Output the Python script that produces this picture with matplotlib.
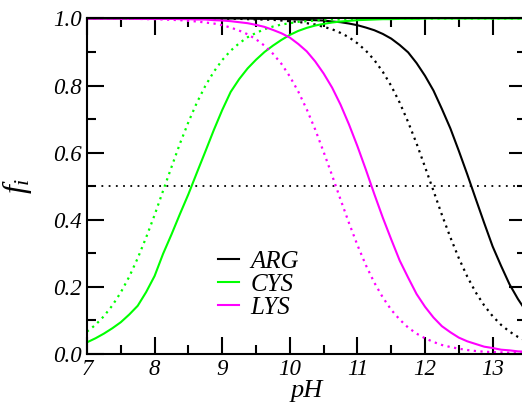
import matplotlib
matplotlib.use("Agg")
import matplotlib.pyplot as plt
from matplotlib.ticker import MultipleLocator

plt.rcParams['font.family'] = ['Liberation Serif', 'DejaVu Serif']
plt.rcParams['font.style'] = 'italic'
plt.rcParams['mathtext.fontset'] = 'custom'
plt.rcParams['mathtext.it'] = 'Liberation Serif:italic'
plt.rcParams['mathtext.rm'] = 'Liberation Serif:italic'

# pH grid and fraction of protonated form
ph = [7.0, 7.125, 7.25, 7.375, 7.5, 7.625, 7.75, 7.875, 8.0, 8.125,
      8.25, 8.375, 8.5, 8.625, 8.75, 8.875, 9.0, 9.125, 9.25, 9.375,
      9.5, 9.625, 9.75, 9.875, 10.0, 10.125, 10.25, 10.375, 10.5, 10.625,
      10.75, 10.875, 11.0, 11.125, 11.25, 11.375, 11.5, 11.625, 11.75, 11.875,
      12.0, 12.125, 12.25, 12.375, 12.5, 12.625, 12.75, 12.875, 13.0, 13.125,
      13.25, 13.375, 13.5]

arg = [1.0] * 20 + [
    0.999, 0.999, 0.999, 0.998, 0.998, 0.997, 0.996, 0.995, 0.994, 0.991,
    0.989, 0.985, 0.980, 0.973, 0.965, 0.954, 0.940, 0.921, 0.899, 0.867,
    0.829, 0.785, 0.730, 0.672, 0.605, 0.535, 0.462, 0.390, 0.320, 0.262,
    0.207, 0.163, 0.125]
arg_ideal = [1.0] * 17 + [
    0.999, 0.999, 0.998, 0.997, 0.997, 0.996, 0.994, 0.992, 0.990, 0.986,
    0.982, 0.975, 0.968, 0.957, 0.944, 0.926, 0.904, 0.876, 0.841, 0.799,
    0.749, 0.691, 0.627, 0.557, 0.486, 0.414, 0.347, 0.285, 0.230, 0.183,
    0.144, 0.112, 0.086, 0.066, 0.050, 0.038]

cys = [0.034, 0.046, 0.060, 0.076, 0.094, 0.117, 0.143, 0.184, 0.232, 0.298,
       0.356, 0.417, 0.476, 0.540, 0.603, 0.667, 0.727, 0.781, 0.819, 0.851,
       0.877, 0.900, 0.919, 0.936, 0.951, 0.963, 0.972, 0.979, 0.984, 0.988,
       0.991, 0.993, 0.995, 0.996, 0.997, 0.998, 0.998, 0.999, 0.999, 0.999] + [1.0] * 13
cys_ideal = [0.066, 0.086, 0.112, 0.144, 0.183, 0.230, 0.285, 0.347, 0.414, 0.486,
             0.557, 0.627, 0.691, 0.749, 0.799, 0.841, 0.876, 0.904, 0.926, 0.944,
             0.957, 0.968, 0.976, 0.982, 0.986, 0.990, 0.992, 0.994, 0.996, 0.997,
             0.997, 0.998, 0.998, 0.999, 0.999, 0.999, 0.999] + [1.0] * 16

lys = [1.0, 1.0, 1.0, 1.0, 1.0, 1.0, 0.999, 0.999, 0.999, 0.999,
       0.999, 0.998, 0.998, 0.997, 0.997, 0.995, 0.994, 0.992, 0.989, 0.986,
       0.981, 0.975, 0.966, 0.956, 0.943, 0.924, 0.902, 0.872, 0.836, 0.794,
       0.743, 0.684, 0.619, 0.549, 0.476, 0.406, 0.341, 0.278, 0.227, 0.178,
       0.140, 0.108, 0.082, 0.064, 0.048, 0.037, 0.029, 0.021, 0.017, 0.012,
       0.010, 0.007, 0.006]
lys_ideal = [1.0, 1.0, 1.0, 1.0, 0.999, 0.999, 0.999, 0.998, 0.998, 0.997,
             0.996, 0.995, 0.993, 0.991, 0.988, 0.985, 0.980, 0.973, 0.964, 0.953,
             0.938, 0.919, 0.895, 0.865, 0.827, 0.782, 0.729, 0.669, 0.602, 0.532,
             0.460, 0.390, 0.324, 0.264, 0.212, 0.168, 0.131, 0.102, 0.078, 0.060,
             0.046, 0.035, 0.026, 0.020, 0.015, 0.011, 0.008, 0.006, 0.005, 0.004,
             0.003, 0.002, 0.002]

names = ['ARG', 'CYS', 'LYS']
colors = ['black', '#00ff00', '#ff00ff']

fig = plt.figure(figsize=(5.22, 4.03), dpi=100)
# right edge of the frame runs a little past the canvas
ax = fig.add_axes([0.1667, 0.1223, 0.8418, 0.8318])

ax.axhline(0.5, color='black', lw=1.3, ls=(0, (1, 3)))

for vals, ideal, name, c in zip([arg, cys, lys], [arg_ideal, cys_ideal, lys_ideal], names, colors):
    ax.plot(ph, ideal, color=c, lw=1.6, ls=(0, (1, 2)))
    ax.plot(ph, vals, color=c, lw=1.5, label=name)

ax.set_xlim(7, 13.5)
ax.set_ylim(0, 1)
ax.xaxis.set_major_locator(MultipleLocator(1))
ax.xaxis.set_minor_locator(MultipleLocator(0.5))
ax.yaxis.set_major_locator(MultipleLocator(0.2))
ax.yaxis.set_minor_locator(MultipleLocator(0.1))
ax.yaxis.set_major_formatter(plt.FormatStrFormatter('%.1f'))

ax.tick_params(which='both', direction='in', top=True, right=True, width=1.5, labelsize=16.5, pad=4)
ax.tick_params(which='major', length=12)
ax.tick_params(which='minor', length=6.3)
for s in ax.spines.values():
    s.set_linewidth(1.5)

ax.set_xlabel('pH', fontsize=19, labelpad=0)
ax.set_ylabel(r'$f_i$', fontsize=23)
ax.yaxis.set_label_coords(-0.12, 0.5)

ax.legend(loc='upper left', bbox_to_anchor=(0.298, 0.308), frameon=False, fontsize=18,
          handlelength=0.85, handletextpad=0.45, labelspacing=0.02, borderpad=0,
          borderaxespad=0)

fig.savefig('out.png', dpi=100)
